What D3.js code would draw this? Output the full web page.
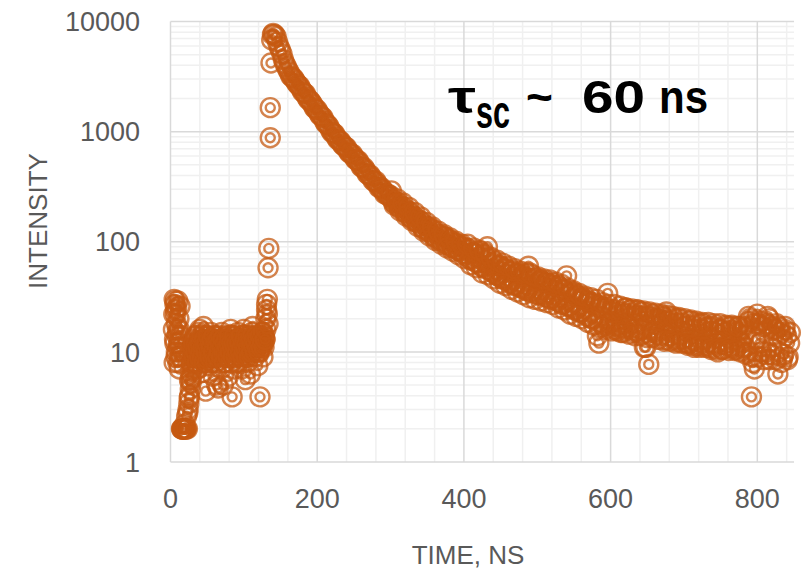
<!DOCTYPE html>
<html>
<head>
<meta charset="utf-8">
<script src="https://cdn.jsdelivr.net/npm/d3@7"></script>
<style>
  html, body { margin: 0; padding: 0; background: #fff; }
  svg { display: block; }
</style>
</head>
<body>
<div id="chart"></div>
<script>
/* ---------- data (time in ns, intensity counts) ---------- */

// pre-pulse background: [time, intensity]
const backgroundPoints = [
  [4, 16], [5, 30], [5, 8], [6, 27], [6, 12], [7, 24], [7, 22], [8, 18], [8, 10], [9, 14],
  [10, 29], [10, 8], [11, 12], [12, 16], [12, 7], [13, 26], [14, 9], [14, 11],
  [15, 2], [16, 2], [17, 2], [18, 2], [19, 2], [20, 2], [21, 2], [22, 2.6], [23, 2], [24, 3],
  [25, 3.4], [26, 4], [27, 4.6], [28, 5.2], [29, 6], [30, 7], [26, 5.5], [27, 6.5], [28, 8],
  [31, 10], [32, 13], [33, 8], [34, 11], [35, 9], [36, 14], [37, 7], [38, 12], [39, 10], [40, 16],
  [41, 9], [42, 11], [43, 6.5], [44, 13], [45, 17], [46, 10], [47, 8], [48, 4.4], [49, 14], [50, 9],
  [51, 11], [52, 7.5], [53, 13], [54, 10], [55, 15], [56, 8], [57, 12], [58, 6], [59, 11], [60, 9],
  [61, 14], [62, 10], [63, 5], [64, 12], [65, 4.7], [66, 13], [67, 9], [68, 11], [69, 7], [70, 15],
  [71, 10], [72, 5], [73, 12], [74, 8], [75, 14], [76, 11], [77, 9], [78, 13], [79, 6], [80, 10],
  [81, 12], [82, 16], [83, 9], [84, 3.9], [85, 11], [86, 14], [87, 7], [88, 10], [89, 13], [90, 8],
  [91, 12], [92, 15], [93, 10], [94, 9], [95, 13], [96, 11], [97, 7], [98, 14], [99, 10], [100, 16],
  [101, 12], [102, 5.6], [103, 11], [104, 13], [105, 8], [106, 10], [107, 14], [108, 12], [109, 6.3], [110, 11],
  [111, 15], [112, 17], [113, 10], [114, 12], [115, 9], [116, 13], [117, 11], [118, 14], [119, 7.5], [120, 12],
  [121, 10], [122, 3.9], [123, 13], [124, 11], [125, 15], [126, 9], [127, 12], [128, 14]
];

// half-ns bins of the same background
const backgroundHalfBins = [
  [4.5, 22], [5.5, 13], [6.5, 29], [7.5, 9], [8.5, 25], [9.5, 16], [10.5, 11], [11.5, 20], [12.5, 9], [13.5, 14],
  [15.5, 2], [17.5, 2], [19.5, 2.2], [21.5, 2], [23.5, 2.8], [25.5, 3.8], [27.5, 5.6], [29.5, 8], [30.5, 11],
  [31.5, 12], [32.5, 9], [33.5, 14], [34.5, 10], [35.5, 12], [36.5, 8], [37.5, 11], [38.5, 15], [39.5, 9], [40.5, 12],
  [41.5, 10], [42.5, 14], [43.5, 9], [44.5, 11], [45.5, 8], [46.5, 13], [47.5, 11], [48.5, 10], [49.5, 12], [50.5, 8],
  [51.5, 14], [52.5, 10], [53.5, 9], [54.5, 12], [55.5, 11], [56.5, 13], [57.5, 9], [58.5, 10], [59.5, 14], [60.5, 12],
  [61.5, 8], [62.5, 12], [63.5, 11], [64.5, 9], [65.5, 13], [66.5, 10], [67.5, 12], [68.5, 14], [69.5, 9], [70.5, 11],
  [71.5, 13], [72.5, 10], [73.5, 8], [74.5, 12], [75.5, 10], [76.5, 13], [77.5, 11], [78.5, 9], [79.5, 12], [80.5, 14],
  [81.5, 10], [82.5, 8], [83.5, 12], [84.5, 11], [85.5, 9], [86.5, 12], [87.5, 14], [88.5, 11], [89.5, 9], [90.5, 12],
  [91.5, 10], [92.5, 8], [93.5, 13], [94.5, 12], [95.5, 10], [96.5, 14], [97.5, 11], [98.5, 9], [99.5, 12], [100.5, 10],
  [101.5, 13], [102.5, 11], [103.5, 9], [104.5, 12], [105.5, 14], [106.5, 11], [107.5, 9], [108.5, 13], [109.5, 12], [110.5, 10],
  [111.5, 12], [112.5, 14], [113.5, 11], [114.5, 13], [115.5, 10], [116.5, 12], [117.5, 14], [118.5, 11], [119.5, 13], [120.5, 10],
  [121.5, 12], [122.5, 14], [123.5, 11], [124.5, 13], [125.5, 12], [126.5, 15], [127.5, 11], [128.5, 13]
];

// rising edge of the pulse: [time, intensity]
const risePoints = [
  [129, 13], [130, 16], [130, 20], [131, 24], [131, 27], [132, 30], [132, 22], [133, 18],
  [133, 58], [134, 87], [136, 880], [136, 1650], [137, 4200], [138, 6800], [139, 7600]
];

// decay after the pulse
const decayTime = [
  140, 144, 148, 152, 156, 160, 164, 168, 172, 176, 180, 184, 188, 192, 196,
  200, 204, 208, 212, 216, 220, 224, 228, 232, 236, 240, 244, 248, 252, 256,
  260, 264, 268, 272, 276, 280, 284, 288, 292, 296,
  300, 304, 308, 312, 316, 320, 324, 328, 332, 336, 340, 344, 348, 352, 356,
  360, 364, 368, 372, 376, 380, 384, 388, 392, 396, 400,
  404, 408, 412, 416, 420, 424, 428, 432, 436, 440, 444, 448, 452, 456, 460,
  464, 468, 472, 476, 480, 484, 488, 492, 496, 500, 504, 508, 512, 516, 520,
  524, 528, 532, 536, 540, 544, 548, 552, 556, 560, 564, 568, 572, 576, 580,
  584, 588, 592, 596, 600,
  604, 608, 612, 616, 620, 624, 628, 632, 636, 640, 644, 648, 652, 656, 660,
  664, 668, 672, 676, 680, 684, 688, 692, 696, 700, 704, 708, 712, 716, 720,
  724, 728, 732, 736, 740, 744, 748, 752, 756, 760, 764, 768, 772, 776, 780,
  784, 788, 792, 796, 800, 804, 808, 812, 816, 820, 824, 828, 832, 836, 840, 844
];
const decayIntensity = [
  7800, 7300, 5900, 5100, 4150, 3650, 3200, 3050, 2750, 2600, 2300, 2200, 1950, 1850, 1650,
  1580, 1400, 1340, 1180, 1120, 985, 950, 845, 815, 740, 715, 640, 625, 560, 545,
  480, 470, 415, 405, 360, 355, 312, 308, 272, 272,
  262, 228, 230, 204, 210, 185, 190, 165, 170, 150, 156, 133, 140, 124, 130,
  111, 118, 103, 112, 95, 104, 89, 97, 84, 90, 78,
  88, 70, 80, 66, 79, 60, 76, 90, 55, 64, 50, 61, 46, 58, 44,
  54, 40, 52, 39, 50, 37, 60, 35, 46, 34, 45, 33, 43, 31, 42,
  30, 40, 28, 37, 49, 26, 35, 24, 32, 23, 30, 21, 28, 20, 27,
  12, 25, 18, 34, 19,
  23, 17, 22, 16, 25, 17, 21, 15, 24, 16, 21, 11, 7.7, 22, 16,
  20, 14, 19, 23, 14, 18, 13, 20, 14, 17, 12, 19, 13, 16, 11.5,
  18, 13, 15, 11, 17, 12, 16, 10.5, 15, 12, 17, 11, 15, 12.5, 16,
  11, 21, 3.9, 7, 22, 12, 17, 10, 20, 11, 16, 6.3, 15, 9.5, 14, 12
];

// interleaved bins of the decay (2 ns after the ones above): [time, intensity]
const decayInterleaved = [
  [142, 7600], [146, 6500], [150, 5500], [154, 4500], [158, 3900], [162, 3450], [166, 3100], [170, 2900],
  [174, 2650], [178, 2450], [182, 2250], [186, 2050], [190, 1920], [194, 1760], [198, 1600],
  [202, 1480], [206, 1380], [210, 1240], [214, 1160], [218, 1040], [222, 975], [226, 890], [230, 835],
  [234, 770], [238, 730], [242, 670], [246, 630], [250, 590], [254, 550], [258, 515],
  [262, 470], [266, 445], [270, 405], [274, 385], [278, 352], [282, 335], [286, 308], [290, 292],
  [294, 270], [298, 258], [302, 245], [306, 222], [310, 226], [314, 200], [318, 205], [322, 180],
  [326, 186], [330, 160], [334, 166], [338, 146], [342, 152], [346, 130], [350, 138], [354, 120],
  [358, 127], [362, 108], [366, 116], [370, 100], [374, 110], [378, 93], [382, 101], [386, 87],
  [390, 95], [394, 82], [398, 90], [402, 75], [406, 86], [410, 68], [414, 78], [418, 64],
  [422, 82], [426, 58], [430, 72], [434, 62], [438, 53], [442, 66], [446, 49], [450, 60],
  [454, 47], [458, 56], [462, 42], [466, 55], [470, 41], [474, 51], [478, 38], [482, 48],
  [486, 36], [490, 52], [494, 36], [498, 47], [502, 33], [506, 44], [510, 32], [514, 42],
  [518, 30], [522, 40], [526, 29], [530, 39], [534, 27], [538, 36], [542, 26], [546, 34],
  [550, 25], [554, 33], [558, 23], [562, 31], [566, 22], [570, 29], [574, 20], [578, 28],
  [582, 14], [586, 26], [590, 17], [594, 25], [598, 18], [602, 24], [606, 16], [610, 23],
  [614, 15], [618, 22], [622, 18], [626, 24], [630, 16], [634, 21], [638, 15], [642, 23],
  [646, 11], [650, 17], [654, 21], [658, 15], [662, 19], [666, 15], [670, 21], [674, 13],
  [678, 19], [682, 15], [686, 20], [690, 12.5], [694, 18], [698, 13], [702, 17], [706, 12],
  [710, 16], [714, 11], [718, 18], [722, 13], [726, 16], [730, 11.5], [734, 17], [738, 12],
  [742, 15], [746, 10], [750, 16], [754, 12.5], [758, 17], [762, 11], [766, 15], [770, 10.5],
  [774, 17], [778, 12], [782, 14], [786, 10], [790, 20], [794, 8], [798, 13], [802, 18],
  [806, 10], [810, 15], [814, 21], [818, 9.5], [822, 14], [826, 18], [830, 10], [834, 13],
  [838, 17], [842, 9]
];

// odd-ns bins of the slower tail, which is noisier: [time, intensity]
const tailOddBins = [
  [301, 290], [305, 215], [309, 245], [313, 190], [317, 225], [321, 172], [325, 205], [329, 155],
  [333, 185], [337, 138], [341, 168], [345, 125], [349, 150], [353, 113], [357, 136], [361, 103],
  [365, 125], [369, 95], [373, 116], [377, 88], [381, 108], [385, 82], [389, 101], [393, 76],
  [397, 95], [401, 70], [405, 95], [409, 62], [413, 88], [417, 58], [421, 84], [425, 52],
  [429, 78], [433, 50], [437, 72], [441, 46], [445, 68], [449, 42], [453, 64], [457, 40],
  [461, 60], [465, 37], [469, 57], [473, 35], [477, 54], [481, 33], [485, 52], [489, 31],
  [493, 50], [497, 30], [501, 48], [505, 29], [509, 46], [513, 28], [517, 45], [521, 27],
  [525, 43], [529, 25], [533, 41], [537, 24], [541, 38], [545, 22], [549, 36], [553, 21],
  [557, 34], [561, 20], [565, 32], [569, 18.5], [573, 31], [577, 17.5], [581, 30], [585, 16.5],
  [589, 28], [593, 16], [597, 27], [601, 15.5], [605, 27], [609, 15.5], [613, 26], [617, 15],
  [621, 25], [625, 14.5], [629, 24.5], [633, 14], [637, 24], [641, 14], [645, 23.5], [649, 13.5],
  [653, 23], [657, 13.5], [661, 22.5], [665, 13], [669, 22], [673, 12.5], [677, 21.5], [681, 12.5],
  [685, 21], [689, 12], [693, 20.5], [697, 12], [701, 20], [705, 11.5], [709, 19.5], [713, 11.5],
  [717, 19], [721, 11], [725, 18.5], [729, 11], [733, 18.5], [737, 10.5], [741, 18], [745, 10.5],
  [749, 18], [753, 10.5], [757, 17.5], [761, 10.3], [765, 17.5], [769, 10.3], [773, 17], [777, 10],
  [781, 17], [785, 9.5], [789, 19], [793, 9], [797, 18], [801, 9], [805, 19], [809, 8.5],
  [813, 18], [817, 8.5], [821, 17], [825, 8.5], [829, 17], [833, 8], [837, 16], [841, 8.5], [845, 15]
];

const xTicks = [0, 200, 400, 600, 800];
const yTicks = [1, 10, 100, 1000, 10000];

/* ---------- layout ---------- */
(function () {
  const W = 808, H = 573;
  const plot = { left: 170.5, right: 794, top: 21.5, bottom: 462 };
  const ORANGE = '#C55A11';
  const TEXT = '#595959';
  const FONT = '"Liberation Sans", Arial, sans-serif';

  const svg = d3.select('#chart').append('svg')
    .attr('width', W)
    .attr('height', H)
    .attr('viewBox', `0 0 ${W} ${H}`);

  const x = d3.scaleLinear().domain([0, 850]).range([plot.left, plot.right]);
  const y = d3.scaleLog().domain([1, 10000]).range([plot.bottom, plot.top]);

  // gridlines: minor first so majors sit on top
  const grid = svg.append('g').attr('class', 'grid');
  const minorX = d3.range(40, 850, 40).filter(v => v % 200 !== 0);
  const minorY = [];
  [1, 10, 100, 1000].forEach(d => { for (let k = 2; k <= 9; k++) minorY.push(d * k); });

  grid.selectAll('line.minor-x').data(minorX).join('line')
    .attr('class', 'minor-x')
    .attr('x1', d => x(d)).attr('x2', d => x(d))
    .attr('y1', plot.top).attr('y2', plot.bottom)
    .attr('stroke', '#f0f0f0').attr('stroke-width', 1.5);

  grid.selectAll('line.minor-y').data(minorY).join('line')
    .attr('class', 'minor-y')
    .attr('x1', plot.left).attr('x2', plot.right)
    .attr('y1', d => y(d)).attr('y2', d => y(d))
    .attr('stroke', '#f0f0f0').attr('stroke-width', 1.5);

  grid.selectAll('line.major-x').data(xTicks).join('line')
    .attr('class', 'major-x')
    .attr('x1', d => x(d)).attr('x2', d => x(d))
    .attr('y1', plot.top).attr('y2', plot.bottom)
    .attr('stroke', '#d9d9d9').attr('stroke-width', 1.5);

  grid.selectAll('line.major-y').data(yTicks).join('line')
    .attr('class', 'major-y')
    .attr('x1', plot.left).attr('x2', plot.right)
    .attr('y1', d => y(d)).attr('y2', d => y(d))
    .attr('stroke', '#d9d9d9').attr('stroke-width', 1.5);

  // tick labels
  svg.append('g').selectAll('text').data(yTicks).join('text')
    .attr('x', 140)
    .attr('y', d => y(d))
    .attr('dy', '0.36em')
    .attr('text-anchor', 'end')
    .attr('font-family', FONT)
    .attr('font-size', 27)
    .attr('fill', TEXT)
    .text(d => d);

  svg.append('g').selectAll('text').data(xTicks).join('text')
    .attr('x', d => x(d))
    .attr('y', 508)
    .attr('text-anchor', 'middle')
    .attr('font-family', FONT)
    .attr('font-size', 27)
    .attr('fill', TEXT)
    .text(d => d);

  // axis titles
  svg.append('text')
    .attr('x', 468).attr('y', 564)
    .attr('text-anchor', 'middle')
    .attr('font-family', FONT).attr('font-size', 26).attr('fill', TEXT)
    .text('TIME, NS');

  svg.append('text')
    .attr('transform', 'translate(47,221) rotate(-90)')
    .attr('text-anchor', 'middle')
    .attr('font-family', FONT).attr('font-size', 26).attr('fill', TEXT)
    .text('INTENSITY');

  // scatter markers: double ring, like Excel's circle marker
  const allPoints = backgroundPoints
    .concat(backgroundHalfBins)
    .concat(risePoints)
    .concat(decayTime.map((t, i) => [t, decayIntensity[i]]))
    .concat(decayInterleaved)
    .concat(tailOddBins);

  const marks = svg.append('g').attr('class', 'marks')
    .selectAll('g').data(allPoints).join('g')
    .attr('transform', d => `translate(${x(d[0])},${y(d[1])})`)
    .attr('fill', 'none')
    .attr('stroke', ORANGE)
    .attr('stroke-width', 2.4)
    .attr('stroke-opacity', 0.75);
  marks.append('circle').attr('r', 9.5);
  marks.append('circle').attr('r', 4.5);

  // annotation: tau with "sc" subscript, then "~ 60 ns"
  const note = svg.append('g')
    .attr('font-family', FONT)
    .attr('font-weight', 'bold')
    .attr('font-size', 46)
    .attr('fill', '#000');
  note.append('text').attr('x', 448).attr('y', 113)
    .attr('textLength', 28).attr('lengthAdjust', 'spacingAndGlyphs').text('τ');
  note.append('text').attr('x', 476).attr('y', 128)
    .attr('textLength', 34).attr('lengthAdjust', 'spacingAndGlyphs').text('sc');
  note.append('text').attr('x', 526).attr('y', 113).text('~');
  note.append('text').attr('x', 582).attr('y', 113)
    .attr('textLength', 63).attr('lengthAdjust', 'spacingAndGlyphs').text('60');
  note.append('text').attr('x', 659).attr('y', 113)
    .attr('textLength', 49).attr('lengthAdjust', 'spacingAndGlyphs').text('ns');
})();
</script>
</body>
</html>
